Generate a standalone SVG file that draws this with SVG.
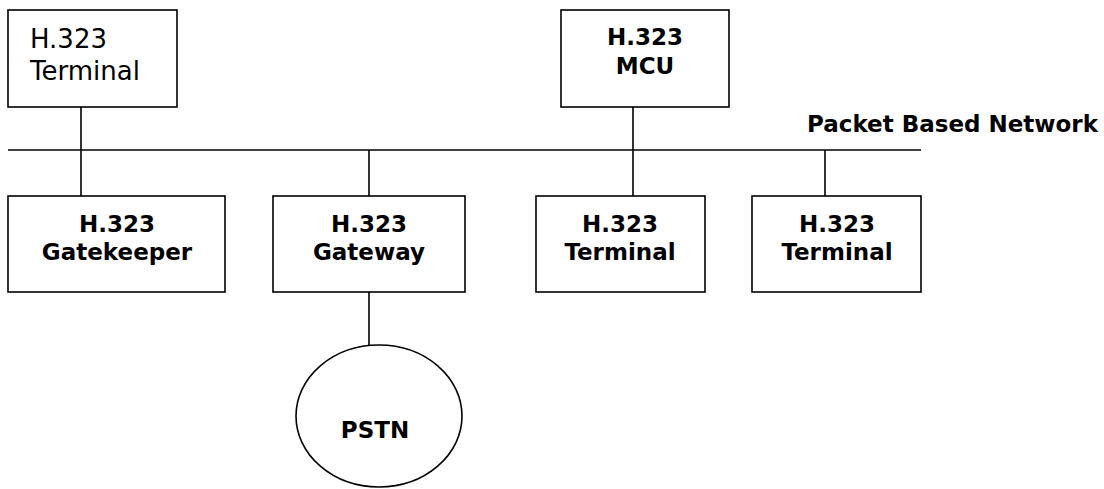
<svg xmlns="http://www.w3.org/2000/svg" width="1104" height="489" viewBox="0 0 1104 489">
<style>
.box{fill:#fff;stroke:#000;stroke-width:1.6}
.ln{stroke:#000;stroke-width:1.6;fill:none}
.r{font-family:"DejaVu Sans",Verdana,sans-serif;font-size:26px;fill:#000}
.b{font-family:"DejaVu Sans",Verdana,sans-serif;font-size:23px;font-weight:bold;fill:#000;text-anchor:middle}
</style>
<rect width="1104" height="489" fill="#fff"/>
<g id="connectors">
<line class="ln" x1="8" y1="150" x2="921" y2="150"/>
<line class="ln" x1="81" y1="107" x2="81" y2="197"/>
<line class="ln" x1="633" y1="107" x2="633" y2="197"/>
<line class="ln" x1="369" y1="150" x2="369" y2="197"/>
<line class="ln" x1="825" y1="150" x2="825" y2="197"/>
<line class="ln" x1="369" y1="292" x2="369" y2="346"/>
</g>
<g id="network-label">
<text class="b" x="1098" y="132" style="text-anchor:end">Packet Based Network</text>
</g>
<g id="terminal-top">
<rect class="box" x="8" y="10" width="169" height="97"/>
<text class="r" x="30" y="48">H.323</text>
<text class="r" x="30" y="80">Terminal</text>
</g>
<g id="mcu">
<rect class="box" x="561" y="10" width="168" height="97"/>
<text class="b" x="645" y="45">H.323</text>
<text class="b" x="645" y="74">MCU</text>
</g>
<g id="gatekeeper">
<rect class="box" x="8" y="196" width="217" height="96"/>
<text class="b" x="117" y="232">H.323</text>
<text class="b" x="117" y="260">Gatekeeper</text>
</g>
<g id="gateway">
<rect class="box" x="273" y="196" width="192" height="96"/>
<text class="b" x="369" y="232">H.323</text>
<text class="b" x="369" y="260">Gateway</text>
</g>
<g id="terminal-1">
<rect class="box" x="536" y="196" width="169" height="96"/>
<text class="b" x="620" y="232">H.323</text>
<text class="b" x="620" y="260">Terminal</text>
</g>
<g id="terminal-2">
<rect class="box" x="752" y="196" width="169" height="96"/>
<text class="b" x="837" y="232">H.323</text>
<text class="b" x="837" y="260">Terminal</text>
</g>
<g id="pstn">
<ellipse class="box" cx="379" cy="416" rx="83" ry="71"/>
<text class="b" x="375" y="438">PSTN</text>
</g>
</svg>
